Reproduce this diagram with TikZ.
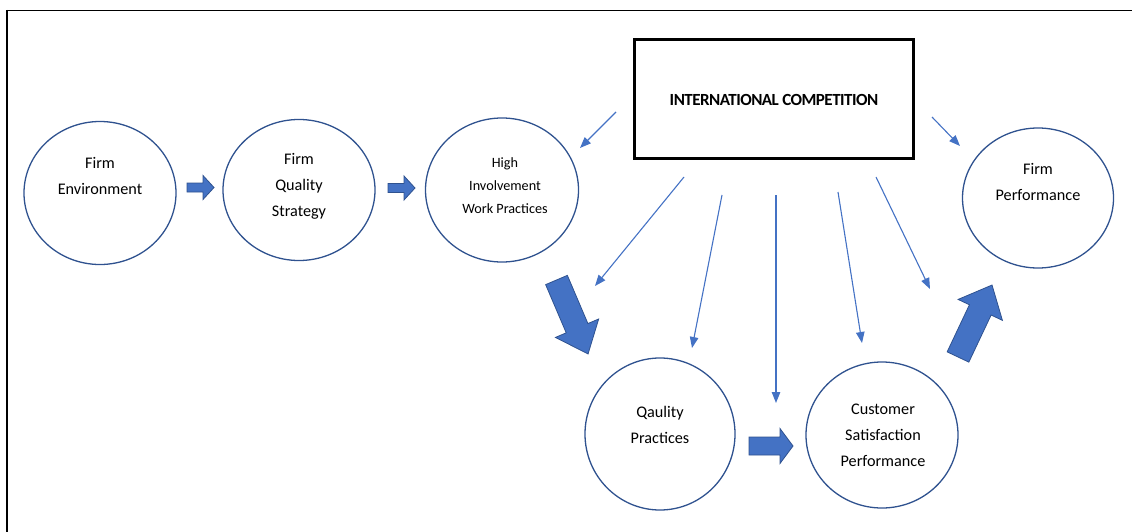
\documentclass[tikz,border=0pt]{standalone}
\usepackage{fontspec}
\setmainfont{Carlito}
\usetikzlibrary{shapes.geometric,arrows.meta}

\definecolor{accent}{HTML}{4472C4}
\definecolor{accentdark}{HTML}{2F528F}

% block arrow: tail centre (#1), angle #2, length #3, head length #4,
% shaft width #5, head width #6
\newcommand{\blkarrow}[6]{%
  \filldraw[blockarrow,shift={(#1)},rotate=#2]
    (0,{#5/2}) -- ({#3-#4},{#5/2}) -- ({#3-#4},{#6/2}) -- (#3,0)
    -- ({#3-#4},{-#6/2}) -- ({#3-#4},{-#5/2}) -- (0,{-#5/2}) -- cycle;}

\begin{document}
\begin{tikzpicture}[x=1pt,y=-1pt,
  bubble/.style={draw=accentdark,line width=1.3pt,ellipse,inner sep=0pt},
  bubbletext/.style={align=center,font=\fontsize{16.2}{26}\selectfont,text=black},
  smalltext/.style={align=center,font=\fontsize{14.2}{23}\selectfont,text=black},
  thinarrow/.style={draw=accent,line width=1.1pt,-{Triangle[length=11pt,width=8.5pt]}},
  blockarrow/.style={fill=accent,draw=accentdark,line width=0.8pt,line join=miter},
  titlebox/.style={draw=black,line width=3pt,minimum width=279pt,minimum height=118pt,inner sep=0pt}]

\useasboundingbox (0,0) rectangle (1132,532);

% frame lines
\draw[line width=1.4pt] (6,10.5) -- (1132,10.5);
\draw[line width=2.4pt] (7,10) -- (7,532);

% bubbles
\node[bubble,minimum width=152pt,minimum height=143pt] (env) at (100,193) {};
\node[bubble,minimum width=152pt,minimum height=141pt] (strat) at (299,190) {};
\node[bubble,minimum width=153pt,minimum height=144pt] (hiwp) at (502,190) {};
\node[bubble,minimum width=150pt,minimum height=152pt] (qual) at (660,434) {};
\node[bubble,minimum width=152pt,minimum height=146pt] (cust) at (882,435) {};
\node[bubble,minimum width=151pt,minimum height=140pt] (perf) at (1038,198) {};

% bubble captions
\node[bubbletext] (envT) at (100,176) {Firm\\Environment};
\node[bubbletext] (stratT) at (299,186) {Firm\\Quality\\Strategy};
\node[smalltext] (hiwpT) at (505,186) {High\\Involvement\\Work Practices};
\node[bubbletext] (qualT) at (660,425) {Qaulity\\Practices};
\node[bubbletext] (custT) at (883,435) {Customer\\Satisfaction\\Performance};
\node[bubbletext] (perfT) at (1038,182) {Firm\\Performance};

% competition box
\node[titlebox] (comp) at (773.5,99) {};
\node[font=\fontsize{17}{20}\bfseries\selectfont,text=black] (compT) at (774,100)
  {\addfontfeatures{LetterSpace=-3}INTERNATIONAL COMPETITION};

% influence arrows from the box
\coordinate (s1) at (616,112);  \coordinate (t1) at (580,148);
\coordinate (s2) at (932,117);  \coordinate (t2) at (960,146);
\coordinate (s3) at (684,177);  \coordinate (t3) at (595,286);
\coordinate (s4) at (722,195);  \coordinate (t4) at (692,348);
\coordinate (s5) at (776,195);  \coordinate (t5) at (776,403);
\coordinate (s6) at (838,192);  \coordinate (t6) at (862,343);
\coordinate (s7) at (876,177);  \coordinate (t7) at (930,289);
\foreach \i in {1,...,7} \draw[thinarrow] (s\i) -- (t\i);

% block arrows along the causal chain
\blkarrow{187,187.5}{0}{27}{11}{9}{24}
\blkarrow{388,188}{0}{27}{11}{9}{24}
\blkarrow{556.5,280}{-66.9}{80.4}{28}{23.6}{47}
\blkarrow{749,446}{0}{44}{13}{18}{35}
\blkarrow{958,357}{64.7}{79.6}{27.5}{24}{49}

\end{tikzpicture}
\end{document}
